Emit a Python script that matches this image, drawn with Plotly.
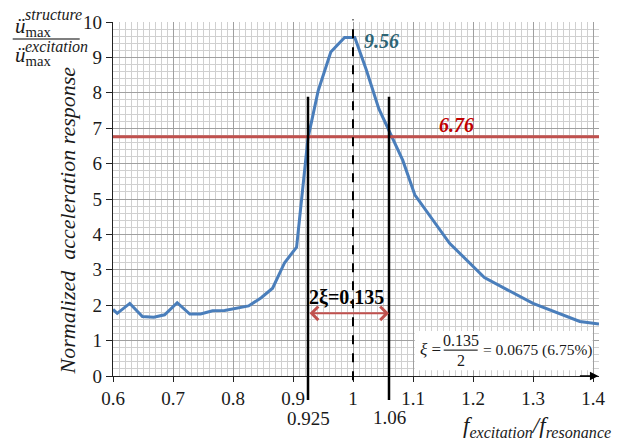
import plotly.graph_objects as go

# ---------------- data ----------------
freq_ratio = [0.600, 0.607, 0.628, 0.649, 0.668, 0.686, 0.707, 0.728, 0.746, 0.766,
              0.786, 0.806, 0.826, 0.847, 0.866, 0.886, 0.906, 0.925, 0.942, 0.963,
              0.986, 1.003, 1.022, 1.043, 1.063, 1.083, 1.103, 1.161, 1.219, 1.300,
              1.378, 1.410]
norm_resp = [1.88, 1.77, 2.05, 1.68, 1.66, 1.73, 2.07, 1.75, 1.75, 1.84,
             1.85, 1.92, 1.98, 2.21, 2.48, 3.20, 3.64, 6.72, 8.06, 9.15,
             9.56, 9.56, 8.66, 7.55, 6.80, 6.09, 5.12, 3.75, 2.78, 2.05,
             1.54, 1.47]

peak_value = 9.56
half_power = 6.76
f_low = 0.925
f_high = 1.06
f_res = 1.0
xi_width_y = 1.77
bar_top = 7.89

x_tickvals = [0.6, 0.7, 0.8, 0.9, 1.0, 1.1, 1.2, 1.3, 1.4]
x_ticktext = ["0.6", "0.7", "0.8", "0.9", "1", "1.1", "1.2", "1.3", "1.4"]
y_tickvals = list(range(0, 11))
y_ticktext = [str(v) for v in y_tickvals]

SERIF = "Liberation Serif"
BLUE = "#4a7ebb"
RED = "#c0504d"
TXT = "#1a1a1a"

fig = go.Figure()
fig.add_trace(go.Scatter(x=freq_ratio, y=norm_resp, mode="lines",
                         line=dict(color=BLUE, width=3), showlegend=False,
                         hoverinfo="skip"))


def px(xp, yp):
    return (xp - 113.3) / 486.0, (376 - yp) / 362.5


shapes = []
# half-power horizontal red line
shapes.append(dict(type="line", xref="paper", yref="y", x0=0, x1=1,
                   y0=half_power, y1=half_power, line=dict(color=RED, width=3)))
# dashed resonance line
shapes.append(dict(type="line", xref="x", yref="paper", x0=f_res, x1=f_res,
                   y0=-0.012, y1=1.007, line=dict(color="black", width=2, dash="dash")))
# bandwidth vertical lines (extend below axis)
for fv in (f_low, f_high):
    shapes.append(dict(type="line", xref="x", yref="paper", x0=fv, x1=fv,
                       y0=-0.068, y1=bar_top / 10.0, line=dict(color="black", width=2.5)))
# white box for damping formula
bx0, by0 = px(415, 370)
bx1, by1 = px(593, 330)
shapes.append(dict(type="rect", xref="paper", yref="paper",
                   x0=bx0, x1=bx1, y0=by0, y1=by1,
                   fillcolor="white", line=dict(width=0), layer="above"))
# fraction line in box
fx0, fy = px(444, 349.5)
fx1, _ = px(478, 349.5)
shapes.append(dict(type="line", xref="paper", yref="paper",
                   x0=fx0, x1=fx1, y0=fy, y1=fy,
                   line=dict(color="black", width=1), layer="above"))
# top-left fraction line
lx0, ly = px(13, 31)
lx1, _ = px(80, 31)
shapes.append(dict(type="line", xref="paper", yref="paper",
                   x0=lx0, x1=lx1, y0=ly, y1=ly,
                   line=dict(color="#555", width=1.5)))

annotations = []
# axis arrows
annotations.append(dict(x=0.6, y=10.1, xref="x", yref="y", ax=0, ay=20, showarrow=True,
                        arrowhead=2, arrowsize=1.3, arrowwidth=1.3, arrowcolor="black", text=""))
annotations.append(dict(x=1.409, y=0, xref="x", yref="y", ax=-20, ay=0, showarrow=True,
                        arrowhead=2, arrowsize=1.3, arrowwidth=1.3, arrowcolor="black", text=""))
# bandwidth double arrow
annotations.append(dict(x=f_high, y=xi_width_y, ax=f_low, ay=xi_width_y,
                        xref="x", yref="y", axref="x", ayref="y", text="",
                        showarrow=True, arrowhead=4, startarrowhead=4, arrowside="end+start",
                        arrowsize=1.3, startarrowsize=1.3, arrowwidth=2, arrowcolor=RED))
annotations.append(dict(x=(f_low + f_high) / 2 - 0.003, y=2.22, xref="x", yref="y",
                        text="<b>2ξ=0.135</b>", showarrow=False,
                        xanchor="center", yanchor="middle",
                        font=dict(family=SERIF, size=20, color="black")))
# peak & half-power labels
annotations.append(dict(x=1.048, y=9.45, xref="x", yref="y", text="<b><i>%.2f</i></b>" % peak_value,
                        showarrow=False, xanchor="center", yanchor="middle",
                        font=dict(family=SERIF, size=20, color="#2e6474")))
annotations.append(dict(x=1.173, y=7.1, xref="x", yref="y", text="<b><i>%.2f</i></b>" % half_power,
                        showarrow=False, xanchor="center", yanchor="middle",
                        font=dict(family=SERIF, size=20, color="#c00000")))
# extra tick labels
annotations.append(dict(x=f_low, y=px(0, 420)[1], xref="x", yref="paper", text="%.3f" % f_low,
                        showarrow=False, xanchor="center", yanchor="middle",
                        font=dict(family=SERIF, size=19, color=TXT)))
annotations.append(dict(x=f_high, y=px(0, 418)[1], xref="x", yref="paper", text="%.2f" % f_high,
                        showarrow=False, xanchor="center", yanchor="middle",
                        font=dict(family=SERIF, size=19, color=TXT)))

# damping formula
for txt, xp, yp, sz, anchor in [
    ("<i>ξ</i> =", 418, 349, 17, "left"),
    ("0.135", 461, 340, 16, "center"),
    ("2", 461, 360, 16, "center"),
    ("= 0.0675 (6.75%)", 481, 349, 15.5, "left"),
]:
    xx, yy = px(xp, yp)
    annotations.append(dict(x=xx, y=yy, xref="paper", yref="paper", text=txt,
                            showarrow=False, xanchor=anchor, yanchor="middle",
                            font=dict(family=SERIF, size=sz, color=TXT)))

# y-axis title
xx, yy = px(68, 217)
annotations.append(dict(x=xx, y=yy, xref="paper", yref="paper",
                        text="<i>Normalized&nbsp; acceleration response</i>",
                        textangle=-90, showarrow=False,
                        xanchor="center", yanchor="middle",
                        font=dict(family=SERIF, size=22, color=TXT)))
# top-left fraction
for txt, xp, yp, sz in [
    ("<i>ü</i><sub>max</sub>", 13, 19, 21),
    ("<i>structure</i>", 23, 6, 16),
    ("<i>ü</i><sub>max</sub>", 13, 48, 21),
    ("<i>excitation</i>", 23, 39, 16),
]:
    xx, yy = px(xp, yp)
    annotations.append(dict(x=xx, y=yy, xref="paper", yref="paper", text=txt,
                            showarrow=False, xanchor="left", yanchor="middle",
                            font=dict(family=SERIF, size=sz, color=TXT)))
# x-axis title
xx, yy = px(613, 428)
annotations.append(dict(x=xx, y=yy, xref="paper", yref="paper", xanchor="right", yanchor="middle",
                        text="<i>f</i><sub><i>excitation</i></sub><i>/f</i><sub><i>resonance</i></sub>",
                        showarrow=False, font=dict(family=SERIF, size=23, color=TXT)))

fig.update_layout(
    width=618, height=441,
    margin=dict(l=113, r=19, t=14, b=65),
    paper_bgcolor="white", plot_bgcolor="white",
    shapes=shapes, annotations=annotations,
    showlegend=False,
    xaxis=dict(range=[0.6, 1.41], tickvals=x_tickvals, ticktext=x_ticktext,
               showgrid=True, gridcolor="#a0a0a0", gridwidth=1,
               minor=dict(dtick=0.01, showgrid=True, gridcolor="#d0d0d0", gridwidth=1),
               showline=True, linecolor="#222", linewidth=1.3,
               ticks="outside", ticklen=5, tickcolor="#222",
               tickfont=dict(family=SERIF, size=19, color=TXT),
               zeroline=False, fixedrange=True),
    yaxis=dict(range=[0, 10], tickvals=y_tickvals, ticktext=y_ticktext,
               showgrid=True, gridcolor="#a0a0a0", gridwidth=1,
               minor=dict(dtick=0.2, showgrid=True, gridcolor="#d0d0d0", gridwidth=1),
               showline=True, linecolor="#222", linewidth=1.3,
               ticks="outside", ticklen=6, tickcolor="#222",
               tickfont=dict(family=SERIF, size=19, color=TXT),
               zeroline=False, fixedrange=True),
)

fig.write_html("out.html")
